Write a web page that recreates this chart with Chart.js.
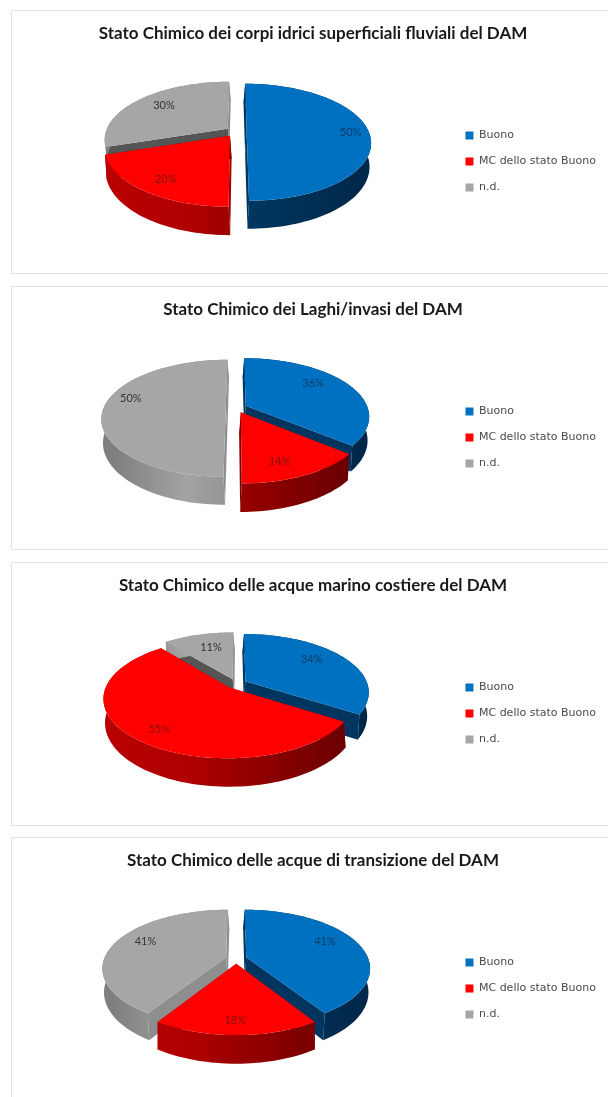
<!DOCTYPE html>
<html>
<head>
<meta charset="utf-8">
<title>Stato Chimico del DAM</title>
<script src="https://cdn.jsdelivr.net/npm/chart.js@4/dist/chart.umd.min.js"></script>
<style>
    html, body { margin: 0; padding: 0; background: #fff; overflow: hidden; height: 1097px; }
    .frame { position: absolute; left: 11px; width: 620px; height: 264px; border: 1px solid #e2e2e2; box-sizing: border-box; }
    .frame canvas { position: absolute; left: 0; top: 0; }
</style>
</head>
<body>
<script>
const categories = ['Buono', 'MC dello stato Buono', 'n.d.'];
const titles = [
    'Stato Chimico dei corpi idrici superficiali fluviali del DAM',
    'Stato Chimico dei Laghi/invasi del DAM',
    'Stato Chimico delle acque marino costiere del DAM',
    'Stato Chimico delle acque di transizione del DAM'
];
const fluviali = [50, 20, 30];
const laghi = [36, 14, 50];
const costiere = [34, 55, 11];
const transizione = [41, 18, 41];
const seriesList = [fluviali, laghi, costiere, transizione];

const topColors = ['#0070c0', '#ff0000', '#a6a6a6'];
const wallStops = [
    ['#00497f', '#003f6e', '#00284a'],
    ['#b80000', '#b00000', '#650000'],
    ['#7f7f7f', '#a3a3a3', '#666666']
];
const cutDark = ['#003560', '#7a0000', '#555555'];
const cutLight = ['#004a80', '#a00000', '#8e8e8e'];
const labelColors = ['#0d3c68', '#860c0c', '#333333'];

// vertical position of each frame, and label nudges around the slice middle
const frameTops = [10, 286, 562, 837];
const labelNudges = [
    [[16, 1], [-5, 6], [1, -2]],
    [[-7, -6], [-5, 6], [-7, -9]],
    [[-5, -4], [-4, 7], [4, 2]],
    [[-2, -5], [-1, 8], [0, -5]]
];

// flat disc seen from the front: wider and lower near the viewer
const tilt = { rx: 122, ry: 56.6, k: 0.18, depth: 23, rise: -3, drift: 1, lean: 1.6 };

function project(arc, u, v, bottom, side) {
    const s = 1 / (1 - tilt.k * v);
    const scaleX = tilt.rx * u * s;
    const scaleY = tilt.ry * v * s;
    return {
        x: arc.x + tilt.drift + scaleX - (bottom ? tilt.lean * side : 0),
        y: arc.y - tilt.rise + scaleY + (bottom ? tilt.depth * s : 0)
    };
}

function slicePoints(el) {
    const shift = (el.options.offset / 4) / tilt.rx;
    const mid = (el.startAngle + el.endAngle) / 2;
    const ou = Math.cos(mid) * shift;
    const ov = Math.sin(mid) * shift;
    const side = Math.abs(ou) < 0.01 ? 0 : Math.sign(ou);
    const rim = [];
    const steps = Math.max(8, Math.ceil((el.endAngle - el.startAngle) * 30));
    for (let i = 0; i <= steps; i++) {
        const a = el.startAngle + (el.endAngle - el.startAngle) * i / steps;
        rim.push([ou + Math.cos(a), ov + Math.sin(a)]);
    }
    return { ou, ov, side, rim, mid };
}

function fillPath(ctx, points, fill) {
    ctx.beginPath();
    points.forEach((p, i) => i ? ctx.lineTo(p.x, p.y) : ctx.moveTo(p.x, p.y));
    ctx.closePath();
    ctx.fillStyle = fill;
    ctx.fill();
}

function drawCut(ctx, el, index, apex, edge, side, outward) {
    const top = [project(el, apex[0], apex[1], false, side), project(el, edge[0], edge[1], false, side)];
    const low = [project(el, edge[0], edge[1], true, side), project(el, apex[0], apex[1], true, side)];
    fillPath(ctx, top.concat(low), outward > 0.5 ? cutLight[index] : cutDark[index]);
}

const tiltedPie = {
    id: 'tiltedPie',
    beforeDatasetsDraw(chart) {
        const ctx = chart.ctx;
        const arcs = chart.getDatasetMeta(0).data;
        const order = arcs.map((el, i) => i).sort((a, b) =>
            Math.sin((arcs[a].startAngle + arcs[a].endAngle) / 2) - Math.sin((arcs[b].startAngle + arcs[b].endAngle) / 2));

        ctx.save();
        order.forEach(i => {
            const el = arcs[i];
            const s = slicePoints(el);
            const apex = [s.ou, s.ov];
            const first = s.rim[0];
            const last = s.rim[s.rim.length - 1];

            // cut faces, lit when they turn towards the right
            drawCut(ctx, el, i, apex, first, s.side, Math.sin(el.startAngle));
            drawCut(ctx, el, i, apex, last, s.side, -Math.sin(el.endAngle));

            // outer wall
            const grad = ctx.createLinearGradient(el.x - tilt.rx, 0, el.x + tilt.rx, 0);
            grad.addColorStop(0, wallStops[i][0]);
            grad.addColorStop(0.3, wallStops[i][1]);
            grad.addColorStop(1, wallStops[i][2]);
            const upper = s.rim.map(p => project(el, p[0], p[1], false, s.side));
            const lower = s.rim.map(p => project(el, p[0], p[1], true, s.side)).reverse();
            fillPath(ctx, upper.concat(lower), grad);

            // top face
            fillPath(ctx, [project(el, s.ou, s.ov, false, s.side)].concat(upper), topColors[i]);
        });

        // percentage labels
        const values = chart.data.datasets[0].data;
        const nudges = chart.options.plugins.tiltedPie.nudges;
        ctx.font = '11px Lato';
        ctx.textAlign = 'center';
        ctx.textBaseline = 'middle';
        arcs.forEach((el, i) => {
            const s = slicePoints(el);
            const p = project(el, s.ou + 0.72 * Math.cos(s.mid), s.ov + 0.72 * Math.sin(s.mid), false, 0);
            ctx.fillStyle = labelColors[i];
            ctx.fillText(values[i] + '%', p.x + nudges[i][0], p.y + nudges[i][1]);
        });
        ctx.restore();
        return false;
    }
};

seriesList.forEach((values, n) => {
    const frame = document.createElement('div');
    frame.className = 'frame';
    frame.style.top = frameTops[n] + 'px';
    const canvas = document.createElement('canvas');
    canvas.width = 602;
    canvas.height = 263;
    canvas.style.width = '602px';
    canvas.style.height = '263px';
    frame.appendChild(canvas);
    document.body.appendChild(frame);

    new Chart(canvas.getContext('2d'), {
        type: 'pie',
        data: {
            labels: categories,
            datasets: [{
                data: values,
                backgroundColor: topColors,
                borderWidth: 0,
                offset: 42
            }]
        },
        options: {
            responsive: false,
            animation: false,
            layout: { padding: { left: 8, right: 8, top: 0, bottom: 66 } },
            plugins: {
                tiltedPie: { nudges: labelNudges[n] },
                tooltip: { enabled: false },
                title: {
                    display: true,
                    text: titles[n],
                    color: '#1a1a1a',
                    font: { family: 'Lato', size: 17, weight: 'bold' },
                    padding: { top: 12, bottom: 6 }
                },
                legend: {
                    position: 'right',
                    align: 'end',
                    labels: {
                        boxWidth: 8,
                        boxHeight: 8,
                        padding: 15,
                        color: '#4a4a4a',
                        font: { family: 'DejaVu Sans', size: 11 }
                    }
                }
            }
        },
        plugins: [tiltedPie]
    });
});
</script>
</body>
</html>
